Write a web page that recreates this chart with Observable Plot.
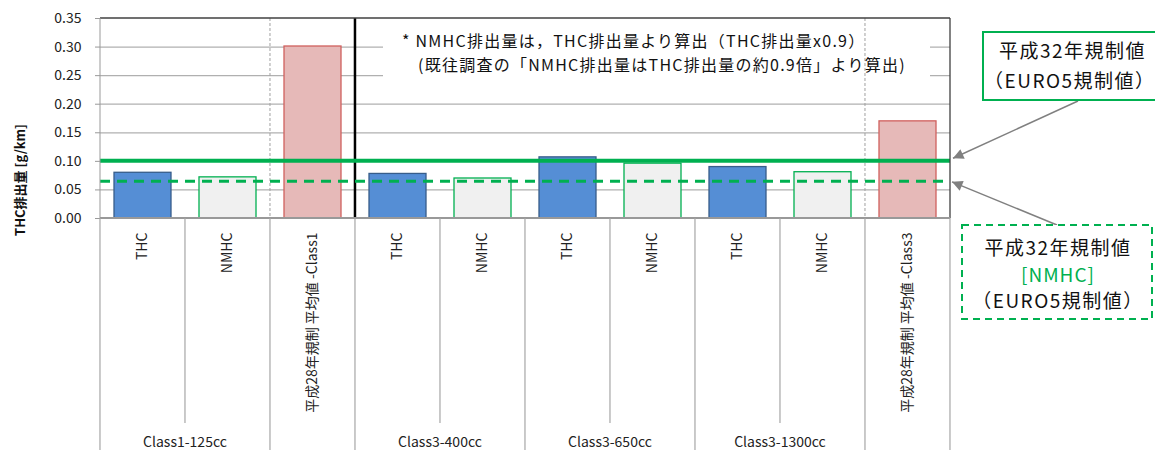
<!DOCTYPE html>
<html>
<head>
<meta charset="utf-8">
<script src="https://cdn.jsdelivr.net/npm/d3@7"></script>
<script src="https://cdn.jsdelivr.net/npm/@observablehq/plot@0.6"></script>
<style>
  html, body { margin: 0; padding: 0; background: #fff; }
  #chart svg { display: block; }
</style>
</head>
<body>
<div id="chart"></div>
<script>
// ---- data ----
const groups = ["Class1-125cc", "Class1-125cc", "", "Class3-400cc", "Class3-400cc", "Class3-650cc", "Class3-650cc", "Class3-1300cc", "Class3-1300cc", ""];
const seriesLabels = ["THC", "NMHC", "平成28年規制 平均値 -Class1", "THC", "NMHC", "THC", "NMHC", "THC", "NMHC", "平成28年規制 平均値 -Class3"];
const kinds = ["THC", "NMHC", "H28", "THC", "NMHC", "THC", "NMHC", "THC", "NMHC", "H28"];
const values = [0.080, 0.072, 0.301, 0.078, 0.070, 0.107, 0.096, 0.090, 0.081, 0.170];
const limitTHC = 0.101;    // 平成32年規制値 (EURO5)
const limitNMHC = 0.065;   // 平成32年規制値 [NMHC]
const yTicks = [0, 0.05, 0.10, 0.15, 0.20, 0.25, 0.30, 0.35];
const yLabel = "THC排出量 [g/km]";
const noteLines = ["* NMHC排出量は，THC排出量より算出（THC排出量x0.9）", "(既往調査の「NMHC排出量はTHC排出量の約0.9倍」より算出)"];
const box1Lines = ["平成32年規制値", "（EURO5規制値）"];
const box2Lines = ["平成32年規制値", "[NMHC]", "（EURO5規制値）"];

// ---- layout / style ----
const W = 1155, H = 450, mL = 100, mR = 205, mT = 18, mB = 232;
const FONT = "'Noto Sans CJK JP', 'Noto Sans', sans-serif";
const GREEN = "#00b050";
const GRID = "#b0b0b0";
const keys = seriesLabels.map((s, i) => i + ":" + s);
const idx = d3.range(keys.length);
const padIn = 0.33;
const styleOf = {
  THC: {fill: "#558ed5", stroke: "#385d8a"},
  NMHC: {fill: "#f0f0f0", stroke: "#00b050"},
  H28: {fill: "#e6b9b8", stroke: "#d0605e"}
};

function colGeom(x) {
  const step = x(keys[1]) - x(keys[0]);
  const gap = step * padIn;
  return {step, left: k => x(k) - gap / 2};
}

// white background of the note text box (hides grid lines)
function noteBoxMark(index, scales, values, dim) {
  const g = d3.create("svg:g");
  g.append("rect").attr("x", 383).attr("y", 27).attr("width", 547).attr("height", 60).attr("fill", "#fff");
  return g.node();
}

// note text
function noteText(index, scales, values, dim) {
  const g = d3.create("svg:g").attr("font-family", FONT).attr("font-size", 16)
    .attr("fill", "#111").attr("text-anchor", "start").attr("letter-spacing", "1.25px");
  g.append("text").attr("x", 402).attr("y", 47).text(noteLines[0]);
  g.append("text").attr("x", 418).attr("y", 71).text(noteLines[1]);
  return g.node();
}

// plot-area separators
function plotSeparators(index, {x}, values, dim) {
  const g = d3.create("svg:g");
  const {left} = colGeom(x);
  const top = dim.marginTop, bottom = dim.height - dim.marginBottom;
  kinds.forEach((k, i) => {
    if (k === "H28") {
      g.append("line").attr("x1", left(keys[i])).attr("x2", left(keys[i]))
        .attr("y1", top).attr("y2", bottom)
        .attr("stroke", "#a0a0a0").attr("stroke-width", 1).attr("stroke-dasharray", "3,2");
    }
  });
  const i3 = groups.indexOf("Class3-400cc");
  g.append("line").attr("x1", left(keys[i3])).attr("x2", left(keys[i3]))
    .attr("y1", top).attr("y2", bottom).attr("stroke", "#000").attr("stroke-width", 2.5);
  return g.node();
}

// frame borders
function frameMark(index, scales, values, dim) {
  const g = d3.create("svg:g");
  const l = dim.marginLeft, r = dim.width - dim.marginRight, t = dim.marginTop, b = dim.height - dim.marginBottom;
  g.append("line").attr("x1", l).attr("x2", r).attr("y1", t).attr("y2", t).attr("stroke", "#404040").attr("stroke-width", 1.3);
  g.append("line").attr("x1", r).attr("x2", r).attr("y1", t).attr("y2", b).attr("stroke", "#404040").attr("stroke-width", 1.3);
  g.append("line").attr("x1", l).attr("x2", l).attr("y1", t).attr("y2", b).attr("stroke", "#999").attr("stroke-width", 1);
  g.append("line").attr("x1", l).attr("x2", r).attr("y1", b).attr("y2", b).attr("stroke", "#999").attr("stroke-width", 2);
  return g.node();
}

// multi-level category axis: separators and group labels
function categoryAxis(index, {x}, values, dim) {
  const g = d3.create("svg:g");
  const {step, left} = colGeom(x);
  const b = dim.height - dim.marginBottom;
  const innerEnd = b + 205;
  for (let i = 0; i <= keys.length; i++) {
    const xx = i < keys.length ? left(keys[i]) : left(keys[i - 1]) + step;
    const isGroupBoundary = i === 0 || i === keys.length || groups[i] !== groups[i - 1] || groups[i] === "";
    g.append("line").attr("x1", xx).attr("x2", xx).attr("y1", b).attr("y2", isGroupBoundary ? dim.height : innerEnd)
      .attr("stroke", "#a6a6a6").attr("stroke-width", 1.2);
  }
  const seen = new Set();
  groups.forEach((gname, i) => {
    if (!gname || seen.has(gname)) return;
    seen.add(gname);
    const members = idx.filter(j => groups[j] === gname);
    const x0 = left(keys[members[0]]);
    const x1 = left(keys[members[members.length - 1]]) + step;
    g.append("text").attr("x", (x0 + x1) / 2).attr("y", dim.height - 3)
      .attr("text-anchor", "middle").attr("font-size", 14).attr("fill", "#222")
      .attr("font-family", FONT).text(gname);
  });
  return g.node();
}

// y axis title
function yTitle(index, scales, values, dim) {
  const t = d3.create("svg:text")
    .attr("transform", `translate(19,180) rotate(-90)`)
    .attr("text-anchor", "middle").attr("dominant-baseline", "central")
    .attr("font-family", FONT).attr("font-size", 13).attr("font-weight", "bold").attr("fill", "#111")
    .text(yLabel);
  return t.node();
}

// right-side annotation boxes and arrows
function sideNotes(index, {y}, values, dim) {
  const g = d3.create("svg:g").attr("font-family", FONT).attr("text-anchor", "start");
  const r = dim.width - dim.marginRight;
  const defs = g.append("defs");
  defs.append("marker").attr("id", "arrowhead").attr("viewBox", "0 0 10 10")
    .attr("refX", 10).attr("refY", 5).attr("markerWidth", 9).attr("markerHeight", 7)
    .attr("markerUnits", "strokeWidth").attr("orient", "auto")
    .append("path").attr("d", "M0,0L10,5L0,10z").attr("fill", "#808080");
  g.append("line").attr("x1", 1078).attr("y1", 101).attr("x2", r + 3).attr("y2", y(limitTHC) - 2)
    .attr("stroke", "#808080").attr("stroke-width", 1.5).attr("marker-end", "url(#arrowhead)");
  g.append("line").attr("x1", 1057).attr("y1", 225).attr("x2", r + 2).attr("y2", y(limitNMHC) + 1)
    .attr("stroke", "#808080").attr("stroke-width", 1.5).attr("marker-end", "url(#arrowhead)");
  // box 1
  g.append("rect").attr("x", 983).attr("y", 32).attr("width", 200).attr("height", 68)
    .attr("fill", "#fff").attr("stroke", GREEN).attr("stroke-width", 2);
  g.append("text").attr("x", 999).attr("y", 58).attr("font-size", 19).attr("letter-spacing", "1.5px").attr("fill", "#111").text(box1Lines[0]);
  g.append("text").attr("x", 984).attr("y", 88).attr("font-size", 19).attr("letter-spacing", "1.5px").attr("fill", "#111").text(box1Lines[1]);
  // box 2
  g.append("rect").attr("x", 962).attr("y", 225).attr("width", 190).attr("height", 94)
    .attr("fill", "#fff").attr("stroke", GREEN).attr("stroke-width", 2).attr("stroke-dasharray", "7,5");
  const cx = 1058;
  g.append("text").attr("x", cx).attr("y", 255).attr("text-anchor", "middle").attr("font-size", 19).attr("letter-spacing", "1.5px").attr("fill", "#111").text(box2Lines[0]);
  g.append("text").attr("x", cx).attr("y", 282).attr("text-anchor", "middle").attr("font-size", 19).attr("letter-spacing", "1px").attr("fill", GREEN).text(box2Lines[1]);
  g.append("text").attr("x", cx).attr("y", 308).attr("text-anchor", "middle").attr("font-size", 19).attr("letter-spacing", "1.5px").attr("fill", "#111").text(box2Lines[2]);
  return g.node();
}

const barMarks = Object.keys(styleOf).map(kind =>
  Plot.barY(idx.filter(i => kinds[i] === kind), {
    x: i => keys[i], y: i => values[i],
    fill: styleOf[kind].fill, stroke: styleOf[kind].stroke, strokeWidth: 1.3
  })
);

const chart = Plot.plot({
  width: W, height: H,
  marginLeft: mL, marginRight: mR, marginTop: mT, marginBottom: mB,
  style: {fontFamily: FONT, background: "#fff", overflow: "visible"},
  x: {domain: keys, paddingInner: padIn, paddingOuter: padIn / 2, axis: null},
  y: {domain: [0, 0.35], axis: null},
  marks: [
    Plot.gridY(yTicks.filter(t => t > 0 && t < 0.35), {stroke: GRID, strokeOpacity: 1, strokeWidth: 1.2}),
    noteBoxMark,
    ...barMarks,
    plotSeparators,
    Plot.ruleY([limitTHC], {stroke: GREEN, strokeWidth: 4}),
    Plot.ruleY([limitNMHC], {stroke: GREEN, strokeWidth: 3, strokeDasharray: "10,7", insetRight: 5}),
    frameMark,
    Plot.axisY(yTicks, {
      tickFormat: d => d.toFixed(2), tickSize: 5, tickPadding: 14,
      fontSize: 14, stroke: "#999", fill: "#222", label: null
    }),
    Plot.text(seriesLabels, {
      x: (d, i) => keys[i], frameAnchor: "bottom", dy: 14,
      rotate: -90, textAnchor: "end", lineAnchor: "middle",
      fontSize: 14, fill: "#222", text: d => d
    }),
    categoryAxis,
    noteText,
    sideNotes,
    yTitle
  ]
});

document.getElementById("chart").appendChild(chart);
</script>
</body>
</html>
